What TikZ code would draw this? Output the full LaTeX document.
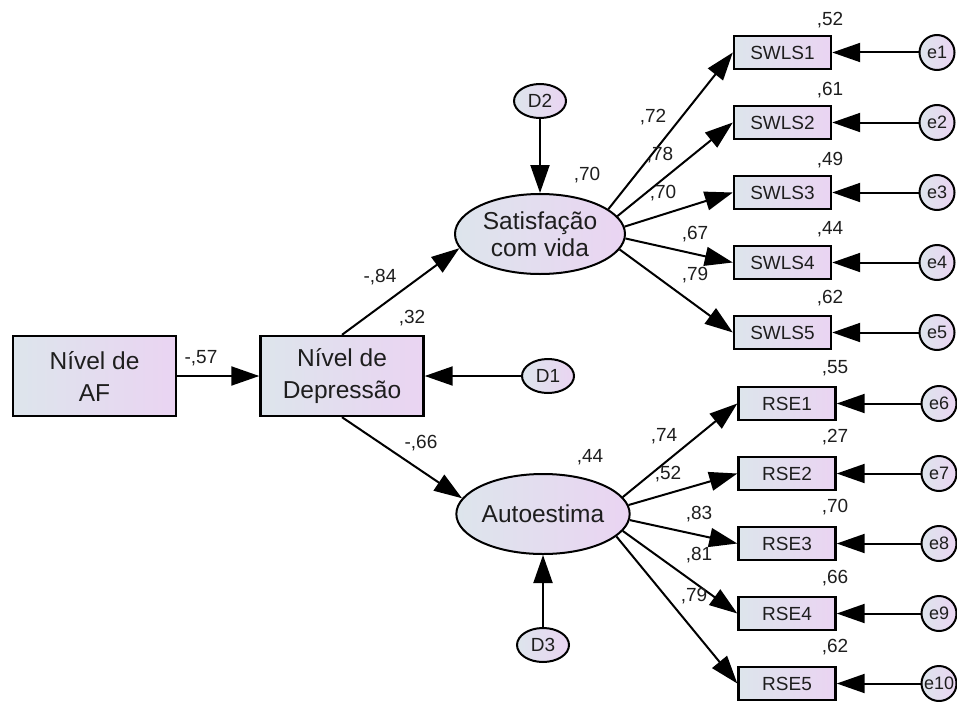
\documentclass[tikz,border=0pt]{standalone}
\usepackage{fontspec}
\setmainfont{Liberation Sans}
\usetikzlibrary{shapes.geometric,arrows.meta}
\definecolor{cl}{RGB}{221,229,236}
\definecolor{cr}{RGB}{234,212,242}
\definecolor{txt}{RGB}{30,30,30}
\tikzset{
 grad/.style={left color=cl, right color=cr, draw=black},
 bigbox/.style={grad, rectangle, line width=2.4pt, minimum width=163pt, minimum height=80pt, inner sep=0pt, align=center, font=\fontsize{24.5}{32}\selectfont, text=txt},
 obsbox/.style={grad, rectangle, line width=2.4pt, minimum width=97pt, minimum height=33pt, inner sep=0pt, font=\fontsize{19}{20}\selectfont, text=txt},
 latent/.style={grad, ellipse, line width=2pt, minimum width=170pt, minimum height=80pt, inner sep=0pt, align=center, font=\fontsize{24.5}{27}\selectfont, text=txt},
 dist/.style={grad, ellipse, line width=2pt, minimum width=52pt, minimum height=34pt, inner sep=0pt, font=\fontsize{19}{20}\selectfont, text=txt},
 errc/.style={grad, circle, line width=2pt, minimum size=35pt, inner sep=0pt, font=\fontsize{18}{20}\selectfont, text=txt},
 lab/.style={font=\fontsize{19}{20}\selectfont, text=txt, inner sep=0pt},
 arr/.style={line width=2pt, -{Triangle[length=28pt,width=19pt]}},
}
\begin{document}
\begin{tikzpicture}[x=1pt,y=-1pt]
\useasboundingbox (0,0) rectangle (957,701);
\node[bigbox] (af) at (94.5,376) {Nível de\\AF};
\node[bigbox] (dep) at (342,376) {Nível de\\Depressão};
\node[latent] (sat) at (540,234) {Satisfação\\com vida};
\node[latent] (auto) at (543,514) {Autoestima};
\node[dist] (d1) at (548,376) {D1};
\node[dist] (d2) at (540,101) {D2};
\node[dist] (d3) at (543,645) {D3};
\foreach \i/\y in {1/52.5,2/122.5,3/192.5,4/262.5,5/332.5}{
  \node[obsbox] (s\i) at (782.5,\y) {SWLS\i};
  \node[errc] (e\i) at (937,\y) {e\i};
}
\foreach \i/\j/\y in {1/6/403.5,2/7/473.5,3/8/543.5,4/9/613.5,5/10/683.5}{
  \node[obsbox] (r\i) at (787,\y) {RSE\i};
  \node[errc] (e\j) at (939,\y) {e\j};
}
% structural arrows
\draw[arr] (af) -- (dep);
\draw[arr] (d1) -- (dep);
\draw[arr] (dep.north) -- (sat.190);
\draw[arr] (dep.south) -- (auto.169);
\draw[arr] (d2) -- (sat);
\draw[arr] (d3) -- (auto);
\foreach \i/\a in {1/20,2/13,3/5,4/-3,5/-11}{
  \draw[arr] (sat.\a) -- (s\i.west);
}
\foreach \i/\a in {1/12,2/6,3/-4,4/-12,5/-17}{
  \draw[arr] (auto.\a) -- (r\i.west);
}
\foreach \i in {1,...,5}{\draw[arr] (e\i) -- (s\i);}
\foreach \i/\j in {1/6,2/7,3/8,4/9,5/10}{\draw[arr] (e\j) -- (r\i);}
% labels
\node[lab] (l1) at (201,358) {-,57};
\node[lab] (l2) at (412,318) {,32};
\node[lab] (l3) at (380,277) {-,84};
\node[lab] (l4) at (421,443) {-,66};
\node[lab] (l5) at (587,175) {,70};
\node[lab] (l6) at (590,457) {,44};
\foreach \v/\y [count=\k] in {{,52}/20,{,61}/90,{,49}/160,{,44}/229,{,62}/298}{
  \node[lab] (rs\k) at (830,\y) {\v};
}
\foreach \v/\y [count=\k] in {{,55}/368,{,27}/437,{,70}/507,{,66}/578,{,62}/647}{
  \node[lab] (rr\k) at (835,\y) {\v};
}
\node[lab] (ls1) at (653,117) {,72};
\node[lab] (ls2) at (660,155) {,78};
\node[lab] (ls3) at (663,193) {,70};
\node[lab] (ls4) at (695,234) {,67};
\node[lab] (ls5) at (695,275) {,79};
\node[lab] (lr1) at (664,436) {,74};
\node[lab] (lr2) at (668,474) {,52};
\node[lab] (lr3) at (699,514) {,83};
\node[lab] (lr4) at (699,555) {,81};
\node[lab] (lr5) at (694,596) {,79};
\end{tikzpicture}
\end{document}
